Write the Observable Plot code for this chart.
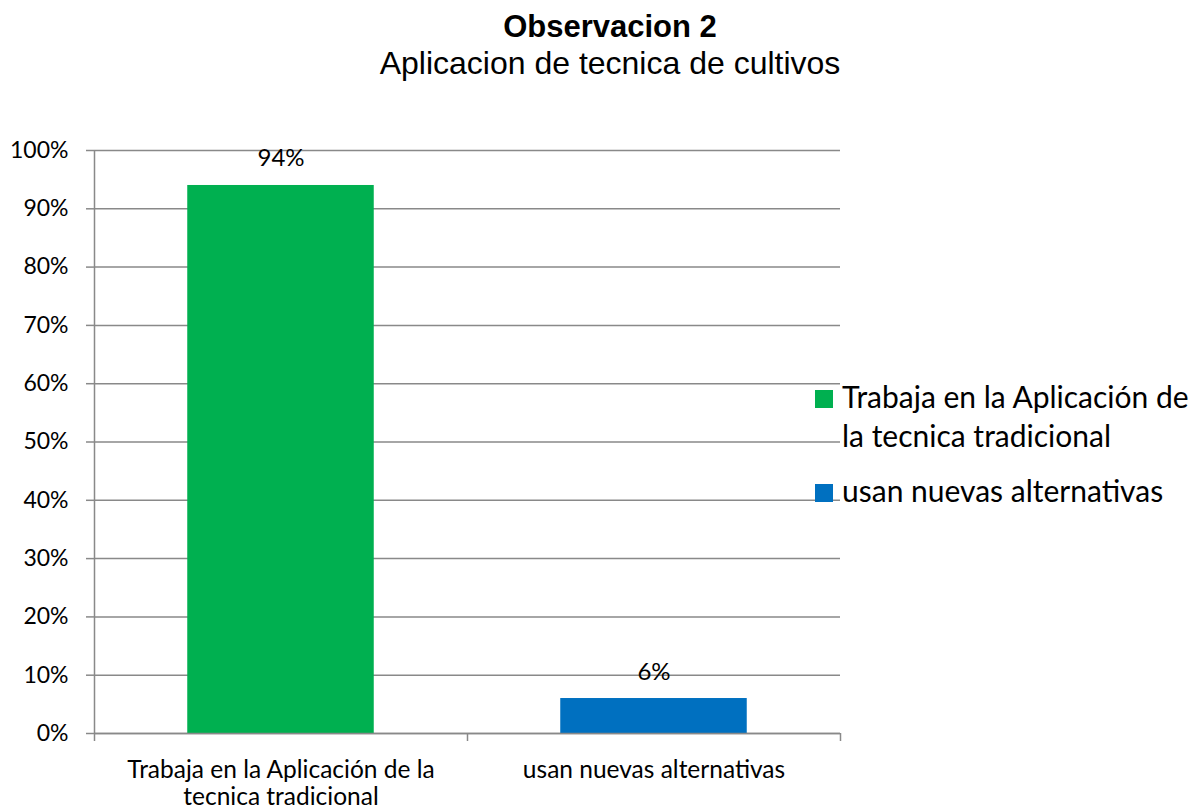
<!DOCTYPE html>
<html>
<head>
<meta charset="utf-8">
<script src="https://cdn.jsdelivr.net/npm/d3@7"></script>
<script src="https://cdn.jsdelivr.net/npm/@observablehq/plot@0.6"></script>
<style>
  html, body { margin: 0; padding: 0; background: #fff; }
  #wrap { position: relative; width: 1192px; height: 810px; font-family: Lato, "Open Sans", sans-serif; color: #000; }
  #title { height: 100px; text-align: center; font-family: "Liberation Sans", Arial, sans-serif; padding-left: 28px; width: 1192px; box-sizing: border-box; }
  #title .t1 { font-weight: bold; font-size: 31px; line-height: 36px; padding-top: 9px; }
  #title .t2 { font-size: 32px; line-height: 36px; }
  #legend { position: absolute; left: 815px; top: 377px; font-size: 30px; line-height: 39px; }
  #legend .item { position: relative; padding-left: 27px; }
  #legend .sw { position: absolute; left: 0; top: 13px; width: 18px; height: 18px; }
</style>
</head>
<body>
<div id="wrap">
  <div id="title"><div class="t1">Observacion 2</div><div class="t2">Aplicacion de tecnica de cultivos</div></div>
  <div id="chart"></div>
  <div id="legend"></div>
</div>
<script>
const categories = ["Trabaja en la Aplicación de la tecnica tradicional", "usan nuevas alternativas"];
const tickLabels = ["Trabaja en la Aplicación de la\ntecnica tradicional", "usan nuevas alternativas"];
const legendLabels = ["Trabaja en la Aplicación de\nla tecnica tradicional", "usan nuevas alternativas"];
const values = [0.94, 0.06];
const colors = ["#00B050", "#0070C0"];
const yTicks = [0, 0.1, 0.2, 0.3, 0.4, 0.5, 0.6, 0.7, 0.8, 0.9, 1.0];

const data = categories.map((c, i) => ({cat: c, i, value: values[i], label: tickLabels[i], color: colors[i]}));
const pct = d3.format(".0%");
const grid = "#898989";

const chart = Plot.plot({
  width: 1192,
  height: 710,
  marginTop: 50,
  marginBottom: 77,
  marginLeft: 94,
  marginRight: 352,
  x: {domain: [0, categories.length], axis: null},
  y: {domain: [0, 1], axis: null},
  style: {fontFamily: "Lato, 'Open Sans', sans-serif", color: "#000", background: "#fff", overflow: "visible"},
  marks: [
    Plot.gridY(yTicks, {stroke: grid, strokeOpacity: 1, strokeWidth: 1.5}),
    Plot.rectY(data, {x1: d => d.i + 0.25, x2: d => d.i + 0.75, y1: 0, y2: "value", fill: "color"}),
    Plot.ruleX([0], {y1: 0, y2: 1, stroke: grid, strokeWidth: 1.5}),
    Plot.ruleY([0], {stroke: grid, strokeWidth: 1.5}),
    Plot.axisY({ticks: yTicks, tickFormat: pct, tickSize: 8, tickPadding: 18, fontSize: 23, stroke: grid, strokeWidth: 1.5, strokeOpacity: 1, label: null}),
    Plot.axisX({ticks: d3.range(categories.length + 1), tickFormat: () => "", tickSize: 8, stroke: grid, strokeWidth: 1.5, strokeOpacity: 1, label: null}),
    Plot.text(data, {x: d => d.i + 0.5, y: 0, text: "label", lineAnchor: "top", dy: 26, fontSize: 24.5, lineHeight: 1.08, fill: "#000"}),
    Plot.text(data, {x: d => d.i + 0.5, y: "value", text: d => pct(d.value), lineAnchor: "bottom", dy: -19, fontSize: 24, fill: "#000"})
  ]
});
document.getElementById("chart").appendChild(chart);

const legend = document.getElementById("legend");
legendLabels.forEach((l, i) => {
  const item = document.createElement("div");
  item.className = "item";
  item.style.marginBottom = i === 0 ? "16px" : "0";
  const sw = document.createElement("div");
  sw.className = "sw";
  sw.style.background = colors[i];
  item.appendChild(sw);
  const txt = document.createElement("div");
  txt.style.whiteSpace = "pre";
  txt.textContent = l;
  item.appendChild(txt);
  legend.appendChild(item);
});
</script>
</body>
</html>
